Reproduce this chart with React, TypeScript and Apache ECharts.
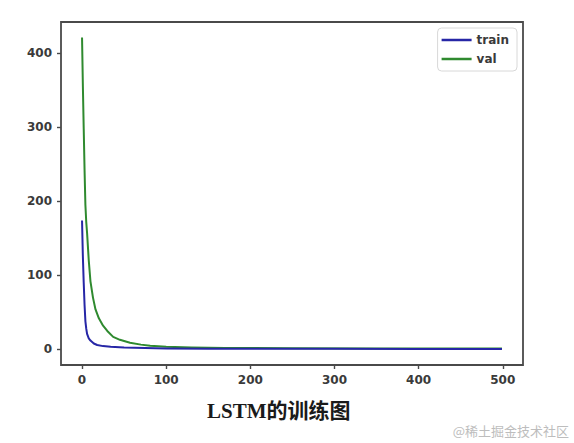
import React, { useEffect, useRef } from "react";
import * as echarts from "echarts";

const trainEpochs = [0, 1, 2, 3, 4, 5, 6, 8, 10, 14, 18, 25, 34, 50, 75, 100, 150, 200, 300, 400, 499];
const trainLoss = [174, 125, 90, 60, 38, 28, 21, 15, 12, 8, 6, 4.5, 3.5, 2.5, 1.8, 1.4, 1.1, 0.9, 0.8, 0.7, 0.6];

const valEpochs = [0, 1, 2, 3, 4, 5, 6, 8, 10, 13, 16, 20, 25, 30, 37, 45, 57, 70, 81, 100, 130, 170, 250, 350, 499];
const valLoss = [421, 355, 298, 242, 195, 172, 157, 120, 92, 70, 54, 42, 32, 25, 17, 13, 9, 6.5, 5, 3.5, 2.5, 2, 1.6, 1.4, 1.2];

const xTicks = [0, 100, 200, 300, 400, 500];
const yTicks = [0, 100, 200, 300, 400];

const seriesNames = ["train", "val"];
const titleText = "LSTM的训练图";
const watermarkText = "@稀土掘金技术社区";

export default function App() {
  const ref = useRef<HTMLDivElement>(null);
  useEffect(() => {
    document.body.style.margin = "0";
    const chart = echarts.init(ref.current!, null, { renderer: "svg" });
    const trainData = trainEpochs.map((e, i) => [e, trainLoss[i]]);
    const valData = valEpochs.map((e, i) => [e, valLoss[i]]);
    const tickFont = {
      fontFamily: "DejaVu Sans",
      fontSize: 12,
      fontWeight: "bold",
      color: "#3a3a3a",
    };
    chart.setOption({
      animation: false,
      backgroundColor: "#ffffff",
      grid: {
        left: 61,
        top: 22,
        right: 51,
        bottom: 78,
        show: true,
        borderColor: "#4a4a4a",
        borderWidth: 1.8,
        backgroundColor: "transparent",
      },
      legend: {
        data: seriesNames,
        orient: "vertical",
        right: 57,
        top: 28,
        icon: "rect",
        itemWidth: 30,
        itemHeight: 2.5,
        itemGap: 7,
        padding: [6, 8, 6, 4],
        borderColor: "#d8d8d8",
        borderWidth: 1,
        borderRadius: 4,
        backgroundColor: "#ffffff",
        textStyle: { fontFamily: "DejaVu Sans", fontSize: 12, fontWeight: "bold", color: "#3a3a3a" },
      },
      xAxis: {
        type: "value",
        min: -25,
        max: 524,
        axisLine: { show: false, onZero: false },
        splitLine: { show: false },
        axisTick: {
          show: true,
          length: 4,
          lineStyle: { color: "#4a4a4a", width: 1.4 },
          customValues: xTicks,
        },
        axisLabel: { ...tickFont, margin: 9, customValues: xTicks },
      },
      yAxis: {
        type: "value",
        min: -21,
        max: 442,
        axisLine: { show: false, onZero: false },
        splitLine: { show: false },
        axisTick: {
          show: true,
          length: 4,
          lineStyle: { color: "#4a4a4a", width: 1.4 },
          customValues: yTicks,
        },
        axisLabel: { ...tickFont, margin: 9, customValues: yTicks },
      },
      series: [
        {
          name: seriesNames[0],
          type: "line",
          data: trainData,
          showSymbol: false,
          symbol: "none",
          smooth: false,
          color: "#2626a6",
          lineStyle: { width: 2, color: "#2626a6", join: "round" },
          z: 3,
        },
        {
          name: seriesNames[1],
          type: "line",
          data: valData,
          showSymbol: false,
          symbol: "none",
          smooth: false,
          color: "#2f8a2f",
          lineStyle: { width: 2, color: "#2f8a2f", join: "round" },
          z: 2,
        },
      ],
      graphic: [
        {
          type: "text",
          left: 207,
          top: 400,
          style: {
            text: titleText,
            fontFamily: "Liberation Serif, Noto Sans CJK SC",
            fontSize: 21,
            fontWeight: "bold",
            fill: "#1a1a1a",
          },
        },
        {
          type: "text",
          right: 5,
          top: 424,
          style: {
            text: watermarkText,
            fontFamily: "Noto Sans CJK SC",
            fontSize: 13,
            fill: "#bdbdbd",
          },
        },
      ],
    });
    return () => chart.dispose();
  }, []);
  return (
    <div
      ref={ref}
      style={{ position: "absolute", left: 0, top: 0, width: 574, height: 443 }}
    />
  );
}
